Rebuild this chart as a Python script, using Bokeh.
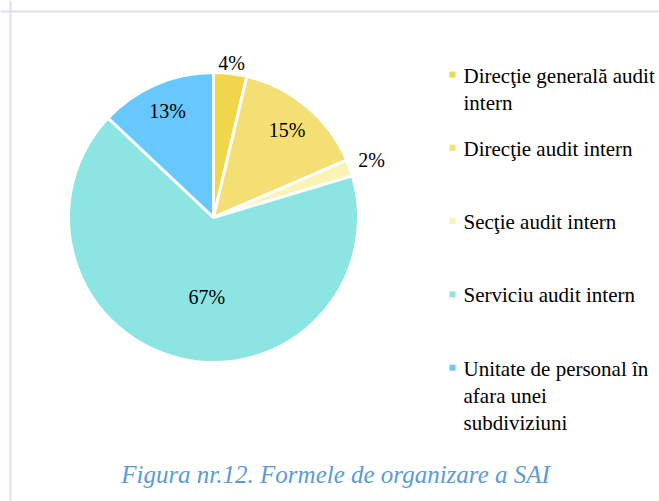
import math
from bokeh.plotting import figure
from bokeh.models import Range1d, ColumnDataSource, Span
from bokeh.core.properties import value
from bokeh.embed import file_html
from bokeh.resources import INLINE

# ---- data ----
categories = [
    "Direcţie generală audit\nintern",
    "Direcţie audit intern",
    "Secţie audit intern",
    "Serviciu audit intern",
    "Unitate de personal în\nafara unei\nsubdiviziuni",
]
counts = [2, 8, 1, 36, 7]
colors = ["#F1D54A", "#F4DF74", "#FAF3B6", "#8DE5E3", "#66C8FC"]
title_text = "Figura nr.12. Formele de organizare a SAI"

# ---- style / layout ----
label_radius = [1.07, 0.79, 1.16, 0.56, 0.80]
label_dx = [0, 0, 0, 12, 0]
R = 145
FONT = value("Liberation Serif")

total = sum(counts)
fracs = [c / total for c in counts]
cum = [0.0]
for f in fracs:
    cum.append(cum[-1] + f)

start = [math.pi / 2 - 2 * math.pi * cum[i] for i in range(len(counts))]
end = [math.pi / 2 - 2 * math.pi * cum[i + 1] for i in range(len(counts))]
pct = [f"{round(f * 100)}%" for f in fracs]

mid = [2 * math.pi * (cum[i] + cum[i + 1]) / 2 for i in range(len(counts))]
lx = [label_radius[i] * R * math.sin(mid[i]) + label_dx[i] for i in range(len(counts))]
ly = [label_radius[i] * R * math.cos(mid[i]) for i in range(len(counts))]

src = ColumnDataSource(dict(start=start, end=end, color=colors, pct=pct, lx=lx, ly=ly,
                            cat=categories))

p = figure(width=659, height=501, x_range=Range1d(-213, 446), y_range=Range1d(-284, 217),
           output_backend="svg", toolbar_location=None, min_border=0,
           x_axis_location=None, y_axis_location=None)
p.grid.visible = False
p.outline_line_color = None
p.background_fill_color = "white"
p.border_fill_color = "white"

# frame of the figure (top and left edges visible)
p.add_layout(Span(location=-203, dimension="height", line_color="#DAE1EC", line_width=2))
p.add_layout(Span(location=206, dimension="width", line_color="#DAE1EC", line_width=2))

p.wedge(x=0, y=0, radius=R, start_angle="start", end_angle="end", direction="clock",
        fill_color="color", line_color="white", line_width=3, source=src)

p.text(x="lx", y="ly", text="pct", source=src, text_font=FONT, text_font_size="20px",
       text_color="#000000", text_align="center", text_baseline="middle")

# legend (manual)
leg_x = 239
leg_y0 = 143
leg_step = 73.3
leg_y = [leg_y0 - i * leg_step for i in range(len(categories))]
leg_ty = [y + 11 for y in leg_y]
lsrc = ColumnDataSource(dict(x=[leg_x] * len(categories), tx=[leg_x + 11] * len(categories),
                             y=leg_y, ty=leg_ty, color=colors, cat=categories))
p.scatter(x="x", y="y", marker="square", size=6, fill_color="color", line_color=None, source=lsrc)
p.text(x="tx", y="ty", text="cat", source=lsrc, text_font=FONT, text_font_size="21px",
       text_color="#000000", text_align="left", text_baseline="top", text_line_height=1.14)

# title
p.text(x=[122], y=[-257], text=[title_text], text_font=FONT, text_font_size="25px",
       text_font_style="italic", text_color="#5B9BD5", text_align="center",
       text_baseline="alphabetic")

open("out.html", "w").write(file_html(p, INLINE))
